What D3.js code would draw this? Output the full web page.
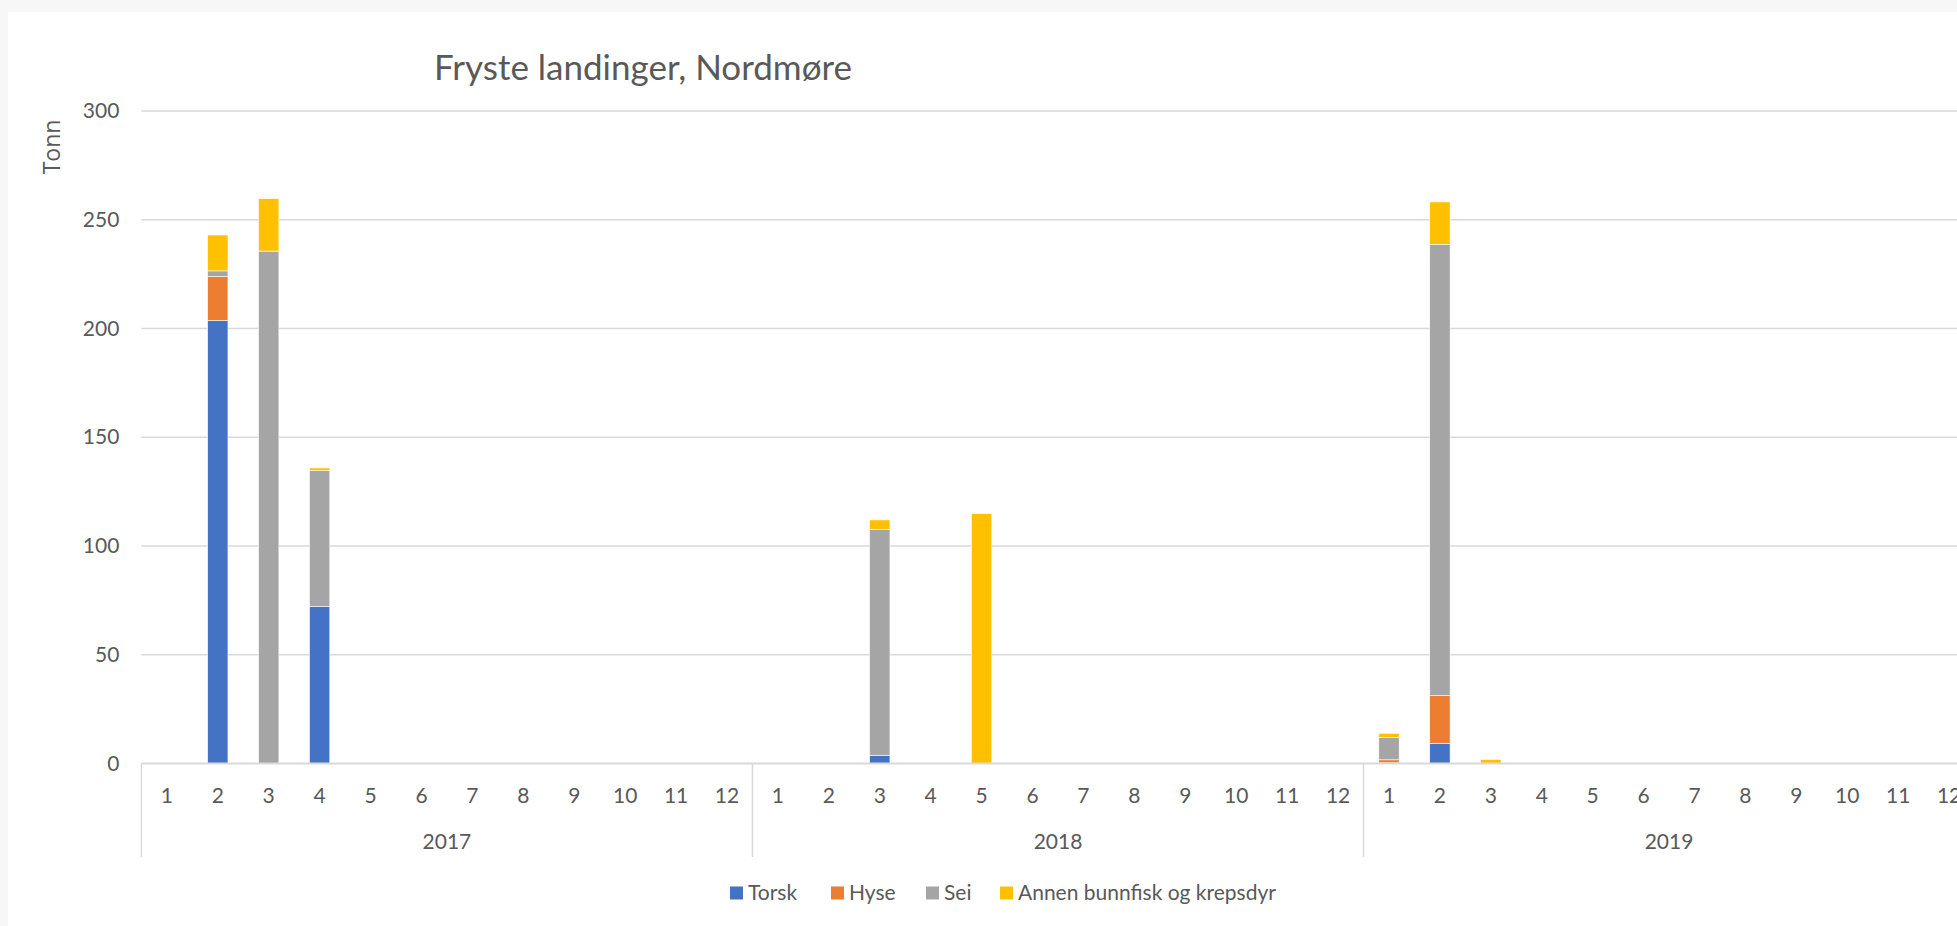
<!DOCTYPE html>
<html>
<head>
<meta charset="utf-8">
<script src="https://cdn.jsdelivr.net/npm/d3@7"></script>
<style>
  html, body { margin: 0; padding: 0; background: #f7f7f7; }
  svg { display: block; font-family: Lato, "Open Sans", sans-serif; }
</style>
</head>
<body>
<svg width="1957" height="926"></svg>
<script>
// Data (tonnes per month)
const years = ['2017', '2018', '2019'];
const months = ['1', '2', '3', '4', '5', '6', '7', '8', '9', '10', '11', '12'];
const series_names = ['Torsk', 'Hyse', 'Sei', 'Annen bunnfisk og krepsdyr'];
const series_colors = ['#4472C4', '#ED7D31', '#A5A5A5', '#FFC000'];
const torsk = [
    0, 203.7, 0, 72.1, 0, 0, 0, 0, 0, 0, 0, 0,
    0, 0, 3.8, 0, 0, 0, 0, 0, 0, 0, 0, 0,
    0.3, 9.3, 0, 0, 0, 0, 0, 0, 0, 0, 0, 0
];
const hyse = [
    0, 20.2, 0, 0, 0, 0, 0, 0, 0, 0, 0, 0,
    0, 0, 0, 0, 0, 0, 0, 0, 0, 0, 0, 0,
    1.4, 21.9, 0, 0, 0, 0, 0, 0, 0, 0, 0, 0
];
const sei = [
    0, 2.6, 235.6, 62.6, 0, 0, 0, 0, 0, 0, 0, 0,
    0, 0, 103.9, 0, 0, 0, 0, 0, 0, 0, 0, 0,
    10.2, 207.4, 0, 0, 0, 0, 0, 0, 0, 0, 0, 0
];
const annen = [
    0, 16.5, 24.1, 1.2, 0, 0, 0, 0, 0, 0, 0, 0,
    0, 0, 4.3, 0, 114.9, 0, 0, 0, 0, 0, 0, 0,
    2.0, 19.6, 1.9, 0, 0, 0, 0, 0, 0, 0, 0, 0
];
const y_ticks = [0, 50, 100, 150, 200, 250, 300];

// Constants
const svg = d3.select('svg');
const width = +svg.attr('width');
const height = +svg.attr('height');
const plot = { left: 141.4, right: 1974.6, top: 111, bottom: 763.5 };
const text_color = '#595959';
const grid_color = '#d9d9d9';

// Build table
const rows = [];
years.forEach((yr, yi) => {
    months.forEach((m, mi) => {
        const i = yi * 12 + mi;
        rows.push({
            key: yr + '-' + m, year: yr, month: m,
            'Torsk': torsk[i], 'Hyse': hyse[i], 'Sei': sei[i],
            'Annen bunnfisk og krepsdyr': annen[i]
        });
    });
});

// Background panel
svg.append('rect')
    .attr('x', 8).attr('y', 12)
    .attr('width', width - 8).attr('height', height - 12)
    .attr('fill', 'white');

// Scales
const x = d3.scaleBand()
    .domain(rows.map(d => d.key))
    .range([plot.left, plot.right])
    .paddingInner(0.6)
    .paddingOuter(0.3);
const step = x.step();
const y = d3.scaleLinear()
    .domain([0, 300])
    .range([plot.bottom, plot.top]);
const color = d3.scaleOrdinal().domain(series_names).range(series_colors);

// Gridlines
svg.append('g')
    .selectAll('line')
    .data(y_ticks.filter(t => t > 0))
    .enter().append('line')
    .attr('x1', plot.left).attr('x2', width)
    .attr('y1', d => y(d)).attr('y2', d => y(d))
    .attr('stroke', grid_color)
    .attr('stroke-width', 1.5);

// Y axis labels
const yAxis = svg.append('g')
    .attr('transform', `translate(${plot.left}, 0)`)
    .call(d3.axisLeft(y).tickValues(y_ticks).tickSize(0).tickPadding(22));
yAxis.select('.domain').remove();
yAxis.selectAll('text')
    .attr('fill', text_color)
    .style('font-size', '21px')
    .style('font-family', 'Lato, sans-serif');

// Y axis title
svg.append('text')
    .attr('transform', `translate(60, 147) rotate(-90)`)
    .attr('text-anchor', 'middle')
    .attr('fill', text_color)
    .style('font-size', '23px')
    .style('font-family', '"Open Sans", sans-serif')
    .text('Tonn');

// Stacked bars
const stacked = d3.stack().keys(series_names)(rows);
svg.append('g')
    .selectAll('g')
    .data(stacked)
    .enter().append('g')
    .attr('fill', d => color(d.key))
    .selectAll('rect')
    .data(d => d.filter(p => p[1] - p[0] > 0))
    .enter().append('rect')
    .attr('x', d => x(d.data.key))
    .attr('y', d => y(d[1]))
    .attr('width', x.bandwidth())
    .attr('height', d => y(d[0]) - y(d[1]))
    .attr('stroke', 'white')
    .attr('stroke-width', 0.6);

// Category axis line
svg.append('line')
    .attr('x1', plot.left).attr('x2', width)
    .attr('y1', plot.bottom).attr('y2', plot.bottom)
    .attr('stroke', grid_color)
    .attr('stroke-width', 2);

// Month labels
svg.append('g')
    .selectAll('text')
    .data(rows)
    .enter().append('text')
    .attr('x', d => x(d.key) + x.bandwidth() / 2)
    .attr('y', 796)
    .attr('dy', '0.35em')
    .attr('text-anchor', 'middle')
    .attr('fill', text_color)
    .style('font-size', '21px')
    .text(d => d.month);

// Year group separators and labels
const group_width = step * months.length;
svg.append('g')
    .selectAll('line')
    .data(d3.range(years.length + 1))
    .enter().append('line')
    .attr('x1', i => plot.left + i * group_width)
    .attr('x2', i => plot.left + i * group_width)
    .attr('y1', plot.bottom)
    .attr('y2', 857)
    .attr('stroke', grid_color)
    .attr('stroke-width', 1.5);

svg.append('g')
    .selectAll('text')
    .data(years)
    .enter().append('text')
    .attr('x', (d, i) => plot.left + (i + 0.5) * group_width)
    .attr('y', 842)
    .attr('dy', '0.35em')
    .attr('text-anchor', 'middle')
    .attr('fill', text_color)
    .style('font-size', '21px')
    .text(d => d);

// Title
svg.append('text')
    .attr('x', 643)
    .attr('y', 80)
    .attr('text-anchor', 'middle')
    .attr('fill', text_color)
    .style('font-size', '35px')
    .text('Fryste landinger, Nordmøre');

// Legend
const legend_x = [730, 831, 926, 1000];
const legend = svg.append('g');
series_names.forEach((name, i) => {
    const item = legend.append('g')
        .attr('transform', `translate(${legend_x[i]}, 893)`);
    item.append('rect')
        .attr('x', 0).attr('y', -6.5)
        .attr('width', 13).attr('height', 13)
        .attr('fill', color(name));
    item.append('text')
        .attr('x', 18)
        .attr('y', 0)
        .attr('dy', '0.35em')
        .attr('fill', text_color)
        .style('font-size', '21px')
        .text(name);
});
</script>
</body>
</html>
